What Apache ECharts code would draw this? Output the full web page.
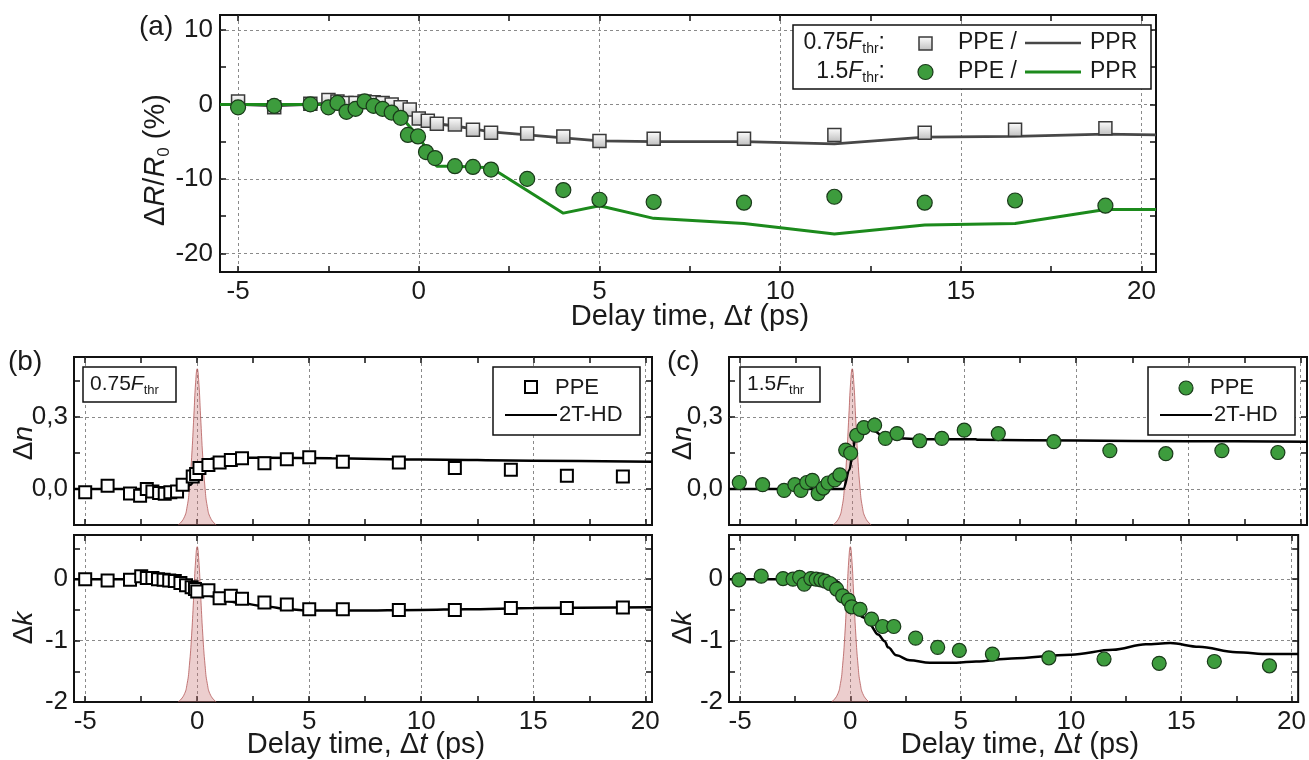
<!DOCTYPE html>
<html><head><meta charset="utf-8">
<script src="https://cdn.jsdelivr.net/npm/echarts@6/dist/echarts.min.js"></script>
<style>html,body{margin:0;padding:0;background:#fff}#c{width:1309px;height:760px}</style>
</head><body><div id="c"></div>
<script>
// ---------- DATA ----------
// Panel (a): dR/R0 (%)
const aSqX = [-5, -4, -3, -2.5, -2.25, -2, -1.75, -1.5, -1.25, -1, -0.75, -0.5, -0.25, 0, 0.25, 0.5, 1, 1.5, 2, 3, 4, 5, 6.5, 9, 11.5, 14, 16.5, 19];
const aSqY = [0.4, -0.4, 0.1, 0.6, 0.4, 0.2, 0.2, 0.4, 0.3, 0.2, 0.0, -0.4, -0.7, -1.9, -2.2, -2.6, -2.7, -3.4, -3.8, -3.9, -4.3, -4.9, -4.6, -4.6, -4.1, -3.8, -3.4, -3.2];
const aCiX = [-5, -4, -3, -2.5, -2.25, -2, -1.75, -1.5, -1.25, -1, -0.75, -0.5, -0.3, -0.02, 0.2, 0.45, 1, 1.5, 2, 3, 4, 5, 6.5, 9, 11.5, 14, 16.5, 19];
const aCiY = [-0.4, -0.2, 0.0, -0.4, 0.2, -1.0, -0.6, 0.4, -0.2, -0.6, -1.1, -1.8, -4.1, -4.3, -6.4, -7.2, -8.3, -8.4, -8.75, -10.0, -11.5, -12.8, -13.1, -13.2, -12.4, -13.2, -12.9, -13.6];
const aGreyX = [-5.5, -5, -4, -3, -2.5, -2, -1.5, -1, -0.5, -0.25, 0, 0.25, 0.5, 1, 1.5, 2, 3, 4, 5, 6.5, 9, 11.5, 14, 16.5, 19, 20.4];
const aGreyY = [0, 0, -0.2, 0, 0.2, 0.1, 0.2, 0, -0.5, -1.0, -1.8, -2.3, -2.6, -2.9, -3.3, -3.7, -4.1, -4.5, -4.9, -5.0, -5.0, -5.3, -4.4, -4.3, -4.0, -4.1];
const aGreenX = [-5.5, -5, -4, -3, -2, -1.5, -1, -0.5, -0.25, 0, 0.25, 0.5, 1, 1.5, 2, 4, 5, 6.5, 9, 11.5, 14, 16.5, 19, 20.4];
const aGreenY = [0, 0, 0, 0, 0, 0, -0.4, -1.6, -3.0, -4.3, -6.3, -8.3, -8.3, -8.4, -8.5, -14.6, -13.6, -15.3, -16.0, -17.4, -16.2, -16.0, -14.1, -14.1];

// Panel (b) 0.75 Fthr : dn
const bnX = [-5, -4, -3, -2.55, -2.25, -2, -1.7, -1.45, -1.2, -0.9, -0.65, -0.2, -0.05, 0.1, 0.5, 1, 1.5, 2, 3, 4, 5, 6.5, 9, 11.5, 14, 16.5, 19];
const bnY = [-0.014, 0.014, -0.019, -0.028, 0.0, -0.01, -0.017, -0.02, -0.014, -0.01, 0.018, 0.052, 0.063, 0.087, 0.1, 0.11, 0.121, 0.128, 0.107, 0.124, 0.132, 0.114, 0.11, 0.087, 0.08, 0.055, 0.052];
const bnFitX = [-5.5, -0.6, -0.3, 0, 0.15, 0.4, 0.7, 1.3, 3, 6, 10, 15, 20.3];
const bnFitY = [0, 0, 0.018, 0.06, 0.095, 0.117, 0.127, 0.131, 0.13, 0.128, 0.123, 0.118, 0.114];
// Panel (b) : dk
const bkX = [-5, -4, -3, -2.5, -2.25, -2, -1.75, -1.5, -1.25, -1, -0.75, -0.5, -0.25, -0.1, 0, 0.5, 1, 1.5, 2, 3, 4, 5, 6.5, 9, 11.5, 14, 16.5, 19];
const bkY = [0, -0.02, -0.01, 0.05, 0.02, 0.02, 0, -0.01, -0.02, -0.03, -0.06, -0.1, -0.13, -0.16, -0.2, -0.18, -0.31, -0.27, -0.32, -0.38, -0.41, -0.49, -0.49, -0.5, -0.5, -0.47, -0.47, -0.46];
const bkFitX = [-5.5, -2, -1, -0.5, 0, 0.7, 1.8, 3, 4.1, 5, 7, 10, 12, 15, 20.3];
const bkFitY = [0, 0, -0.01, -0.09, -0.2, -0.28, -0.38, -0.44, -0.49, -0.51, -0.51, -0.5, -0.49, -0.47, -0.455];

// Panel (c) 1.5 Fthr : dn
const cnX = [-5.04, -4.0, -3.04, -2.56, -2.29, -2.03, -1.78, -1.52, -1.29, -1.08, -0.78, -0.55, -0.29, -0.07, 0.2, 0.52, 1.0, 1.48, 2.0, 3.01, 4.0, 5.0, 6.52, 9, 11.5, 14, 16.5, 19];
const cnY = [0.027, 0.018, -0.006, 0.018, -0.006, 0.027, 0.036, -0.019, 0.004, 0.025, 0.038, 0.059, 0.162, 0.149, 0.224, 0.256, 0.266, 0.211, 0.231, 0.201, 0.211, 0.245, 0.231, 0.197, 0.16, 0.147, 0.16, 0.152];
const cnFitX = [-5.5, -0.4, -0.12, 0.03, 0.18, 0.33, 0.56, 0.93, 1.37, 1.89, 3.2, 5.5, 5.6, 10, 15, 20.3];
const cnFitY = [0, 0, 0.08, 0.163, 0.238, 0.266, 0.266, 0.245, 0.22, 0.211, 0.207, 0.207, 0.205, 0.202, 0.199, 0.197];
// Panel (c) : dk
const ckX = [-5.05, -4.04, -3.05, -2.6, -2.3, -2.09, -1.79, -1.55, -1.34, -1.14, -0.92, -0.62, -0.35, -0.09, 0.06, 0.44, 0.96, 1.46, 1.97, 2.96, 3.96, 4.94, 6.44, 9, 11.5, 14, 16.5, 19];
const ckY = [-0.01, 0.05, 0.01, 0, 0.03, -0.08, 0.01, 0, -0.01, -0.03, -0.07, -0.16, -0.27, -0.34, -0.45, -0.49, -0.65, -0.77, -0.77, -0.96, -1.11, -1.16, -1.22, -1.28, -1.30, -1.37, -1.34, -1.41];
const ckFitX = [-5.5, -0.75, -0.54, -0.29, -0.05, 0.2, 0.58, 0.88, 1.26, 1.56, 1.71, 2.09, 2.69, 3.6, 4.8, 5.7, 7.3, 10, 11.9, 13.4, 14.5, 15.8, 17.5, 19, 20.3];
const ckFitY = [0, 0, -0.05, -0.19, -0.36, -0.52, -0.62, -0.74, -0.9, -1.01, -1.11, -1.24, -1.32, -1.36, -1.36, -1.34, -1.29, -1.23, -1.15, -1.06, -1.04, -1.1, -1.19, -1.22, -1.22];

// Pump pulse (normalised height)
const pulseX = [-0.85, -0.6, -0.45, -0.35, -0.25, -0.15, -0.07, 0, 0.07, 0.15, 0.25, 0.35, 0.45, 0.6, 0.85];
const pulseY = [0.0, 0.04, 0.11, 0.22, 0.4, 0.65, 0.85, 0.93, 0.85, 0.65, 0.4, 0.22, 0.11, 0.04, 0.0];

// Ticks / labels
const xTicks = [-5, -2.5, 0, 2.5, 5, 7.5, 10, 12.5, 15, 17.5, 20];
const xGrid = [-5, 0, 5, 10, 15, 20];
const xLabels = [-5, 0, 5, 10, 15, 20];
const aYTicks = [-20, -15, -10, -5, 0, 5, 10];
const aYGrid = [-20, -10, 0, 10];
const aYLabels = [-20, -10, 0, 10];
const nYTicks = [0, 0.15, 0.3, 0.45];
const nYGrid = [0, 0.3];
const nYLabels = [0, 0.3];
const kYTicks = [-1.5, -1, -0.5, 0, 0.5];
const kYGrid = [-1, 0];
const kYLabels = [-2, -1, 0];

// ---------- BUILD ----------
const FONT = '"Liberation Sans", Arial, sans-serif';
const pts = (xs, ys) => xs.map((x, i) => [x, ys[i]]);
const gridBoxes = [
  {left: 220, top: 15, width: 936, height: 257},
  {left: 74, top: 357, width: 578, height: 168},
  {left: 74, top: 535, width: 578, height: 167},
  {left: 729, top: 357, width: 578, height: 168},
  {left: 729, top: 535, width: 578, height: 167}
];
const grid = gridBoxes.map(g => Object.assign({show: true, borderColor: '#111', borderWidth: 2, backgroundColor: 'transparent', containLabel: false}, g));
const gridLineStyle = {color: '#8a8a8a', width: 1, type: [3, 3]};
const tickStyle = {color: '#111', width: 1.5};
const xAxis = [], yAxis = [];

function addAxes(list, dim, g, min, max, ticks, gridVals, labels, showLabels, fmt, margin) {
  const p1 = dim === 'x' ? 'bottom' : 'left';
  const p2 = dim === 'x' ? 'top' : 'right';
  const base = {type: 'value', gridIndex: g, min: min, max: max, axisLine: {show: false, onZero: false}};
  const idx = list.length;
  list.push(Object.assign({}, base, {
    position: p1,
    axisTick: {show: true, inside: true, length: 6, customValues: ticks, lineStyle: tickStyle},
    axisLabel: {show: showLabels, customValues: labels, margin: margin, fontSize: 26, color: '#1a1a1a', fontFamily: FONT, formatter: fmt},
    splitLine: {show: false}
  }));
  list.push(Object.assign({}, base, {
    position: p2,
    axisTick: {show: true, inside: true, length: 6, customValues: ticks, lineStyle: tickStyle},
    axisLabel: {show: false},
    splitLine: {show: false}
  }));
  list.push(Object.assign({}, base, {
    position: p1,
    axisTick: {show: false, customValues: gridVals},
    axisLabel: {show: false},
    splitLine: {show: true, lineStyle: gridLineStyle}
  }));
  return idx;
}
const intFmt = v => String(Math.round(v));
const commaFmt = v => v.toFixed(1).replace('.', ',');

const ax = [], ay = [], ap = [];
// (a)
ax.push(addAxes(xAxis, 'x', 0, -5.5, 20.4, xTicks, xGrid, xLabels, true, intFmt, 7));
ay.push(addAxes(yAxis, 'y', 0, -22.5, 12, aYTicks, aYGrid, aYLabels, true, intFmt, 7));
ap.push(null);
// b1, b2, c1, c2
const sub = [
  {g: 1, kind: 'n', xl: false}, {g: 2, kind: 'k', xl: true},
  {g: 3, kind: 'n', xl: false}, {g: 4, kind: 'k', xl: true}
];
sub.forEach(s => {
  ax.push(addAxes(xAxis, 'x', s.g, -5.5, 20.3, xTicks, xGrid, xLabels, s.xl, intFmt, 7));
  if (s.kind === 'n') ay.push(addAxes(yAxis, 'y', s.g, -0.15, 0.55, nYTicks, nYGrid, nYLabels, true, commaFmt, 6));
  else ay.push(addAxes(yAxis, 'y', s.g, -2, 0.72, kYTicks, kYGrid, kYLabels, true, intFmt, 6));
  ap.push(yAxis.length);
  yAxis.push({type: 'value', gridIndex: s.g, min: 0, max: 1, show: false});
});

const greyFill = new echarts.graphic.LinearGradient(0, 0, 0, 1, [{offset: 0, color: '#ffffff'}, {offset: 1, color: '#bdbdbd'}]);
const green = '#3d9c3d';
const series = [];
// (a)
series.push({type: 'line', xAxisIndex: ax[0], yAxisIndex: ay[0], data: pts(aGreyX, aGreyY), symbol: 'none', lineStyle: {color: '#474747', width: 2.8}, z: 2});
series.push({type: 'line', xAxisIndex: ax[0], yAxisIndex: ay[0], data: pts(aGreenX, aGreenY), symbol: 'none', lineStyle: {color: '#1c8a1c', width: 3}, z: 2});
series.push({type: 'scatter', xAxisIndex: ax[0], yAxisIndex: ay[0], data: pts(aSqX, aSqY), symbol: 'rect', symbolSize: 13, itemStyle: {color: greyFill, borderColor: '#3a3a3a', borderWidth: 1.5, opacity: 1}, z: 3});
series.push({type: 'scatter', xAxisIndex: ax[0], yAxisIndex: ay[0], data: pts(aCiX, aCiY), symbol: 'circle', symbolSize: 15, itemStyle: {color: green, borderColor: '#1a3a1a', borderWidth: 1.2, opacity: 1}, z: 4});

const subData = [
  {m: pts(bnX, bnY), f: pts(bnFitX, bnFitY), sym: 'rect'},
  {m: pts(bkX, bkY), f: pts(bkFitX, bkFitY), sym: 'rect'},
  {m: pts(cnX, cnY), f: pts(cnFitX, cnFitY), sym: 'circle'},
  {m: pts(ckX, ckY), f: pts(ckFitX, ckFitY), sym: 'circle'}
];
subData.forEach((d, i) => {
  const xi = ax[i + 1], yi = ay[i + 1], pi = ap[i + 1];
  series.push({type: 'line', xAxisIndex: xi, yAxisIndex: pi, data: pts(pulseX, pulseY), smooth: 0.5, symbol: 'none', silent: true,
    lineStyle: {color: 'rgba(180,90,90,0.8)', width: 1}, areaStyle: {color: 'rgba(200,115,115,0.5)', origin: 'start'}, z: 1});
  series.push({type: 'line', xAxisIndex: xi, yAxisIndex: yi, data: d.f, smooth: 0.35, smoothMonotone: 'x', symbol: 'none', lineStyle: {color: '#000', width: 2.5}, z: 2});
  if (d.sym === 'rect') {
    series.push({type: 'scatter', xAxisIndex: xi, yAxisIndex: yi, data: d.m, symbol: 'rect', symbolSize: 12, itemStyle: {color: '#fff', borderColor: '#000', borderWidth: 2, opacity: 1}, z: 3});
  } else {
    series.push({type: 'scatter', xAxisIndex: xi, yAxisIndex: yi, data: d.m, symbol: 'circle', symbolSize: 14, itemStyle: {color: green, borderColor: '#1a3a1a', borderWidth: 1.2, opacity: 1}, z: 3});
  }
});

// ---------- TEXT / LEGENDS ----------
function rich(sz) {
  return {
    n: {fontSize: sz, fontFamily: FONT, fill: '#1a1a1a', lineHeight: sz + 4},
    i: {fontSize: sz, fontFamily: FONT, fontStyle: 'italic', fill: '#1a1a1a', lineHeight: sz + 4},
    s: {fontSize: Math.round(sz * 0.6), fontFamily: FONT, fill: '#1a1a1a', verticalAlign: 'bottom', lineHeight: Math.round(sz * 0.6) + 2}
  };
}
function txt(x, y, text, sz, align, rot) {
  return {type: 'text', x: x, y: y, rotation: rot || 0, z: 120,
    style: {text: text, rich: rich(sz), align: align || 'left', verticalAlign: 'middle', fill: '#1a1a1a', fontSize: sz, fontFamily: FONT}};
}
const g = [];
// panel letters
g.push(txt(139, 27, '{n|(a)}', 28, 'left'));
g.push(txt(8, 362, '{n|(b)}', 28, 'left'));
g.push(txt(667, 362, '{n|(c)}', 28, 'left'));
// axis titles
const xt = '{n|Delay time, Δ}{i|t}{n| (ps)}';
g.push(txt(690, 317, xt, 29, 'center'));
g.push(txt(366, 745, xt, 29, 'center'));
g.push(txt(1020, 745, xt, 29, 'center'));
g.push(txt(156, 160, '{n|Δ}{i|R}{n|/}{i|R}{s|0}{n| (%)}', 29, 'center', Math.PI / 2));
g.push(txt(24, 443, '{n|Δ}{i|n}', 28, 'center', Math.PI / 2));
g.push(txt(24, 628, '{n|Δ}{i|k}', 28, 'center', Math.PI / 2));
g.push(txt(683, 443, '{n|Δ}{i|n}', 28, 'center', Math.PI / 2));
g.push(txt(683, 628, '{n|Δ}{i|k}', 28, 'center', Math.PI / 2));
// legend (a)
g.push({type: 'rect', z: 110, shape: {x: 793, y: 25, width: 358, height: 64}, style: {fill: '#fff', stroke: '#111', lineWidth: 1.5}});
g.push(txt(885, 43, '{n|0.75}{i|F}{s|thr}{n|:}', 23, 'right'));
g.push(txt(885, 72, '{n|1.5}{i|F}{s|thr}{n|:}', 23, 'right'));
g.push({type: 'rect', z: 120, shape: {x: 919, y: 37, width: 13, height: 13}, style: {fill: greyFill, stroke: '#3a3a3a', lineWidth: 1.5}});
g.push({type: 'circle', z: 120, shape: {cx: 925.5, cy: 72, r: 7.5}, style: {fill: green, stroke: '#1a3a1a', lineWidth: 1.2}});
g.push(txt(958, 43, '{n|PPE /}', 23, 'left'));
g.push(txt(958, 72, '{n|PPE /}', 23, 'left'));
g.push({type: 'line', z: 120, shape: {x1: 1025, y1: 43, x2: 1081, y2: 43}, style: {stroke: '#474747', lineWidth: 2.5}});
g.push({type: 'line', z: 120, shape: {x1: 1025, y1: 72, x2: 1081, y2: 72}, style: {stroke: '#1c8a1c', lineWidth: 3}});
g.push(txt(1090, 43, '{n|PPR}', 23, 'left'));
g.push(txt(1090, 72, '{n|PPR}', 23, 'left'));
// fluence boxes
g.push({type: 'rect', z: 110, shape: {x: 83, y: 367, width: 93, height: 35}, style: {fill: '#fff', stroke: '#111', lineWidth: 1.5}});
g.push(txt(90, 384, '{n|0.75}{i|F}{s|thr}', 21, 'left'));
g.push({type: 'rect', z: 110, shape: {x: 740, y: 367, width: 80, height: 35}, style: {fill: '#fff', stroke: '#111', lineWidth: 1.5}});
g.push(txt(747, 384, '{n|1.5}{i|F}{s|thr}', 21, 'left'));
// legends (b), (c)
[[493, 'rect'], [1148, 'circle']].forEach(([bx, sym]) => {
  g.push({type: 'rect', z: 110, shape: {x: bx, y: 367, width: 147, height: 68}, style: {fill: '#fff', stroke: '#111', lineWidth: 1.5}});
  if (sym === 'rect') g.push({type: 'rect', z: 120, shape: {x: bx + 32, y: 381, width: 12, height: 12}, style: {fill: '#fff', stroke: '#000', lineWidth: 2}});
  else g.push({type: 'circle', z: 120, shape: {cx: bx + 38, cy: 388, r: 7}, style: {fill: green, stroke: '#1a3a1a', lineWidth: 1.2}});
  g.push(txt(bx + 62, 388, '{n|PPE}', 22, 'left'));
  g.push({type: 'line', z: 120, shape: {x1: bx + 12, y1: 415, x2: bx + 64, y2: 415}, style: {stroke: '#000', lineWidth: 2}});
  g.push(txt(bx + 66, 415, '{n|2T-HD}', 22, 'left'));
});

const chart = echarts.init(document.getElementById('c'), null, {renderer: 'canvas'});
chart.setOption({
  animation: false,
  backgroundColor: '#fff',
  grid: grid,
  xAxis: xAxis,
  yAxis: yAxis,
  series: series,
  graphic: {elements: g}
});
</script></body></html>
